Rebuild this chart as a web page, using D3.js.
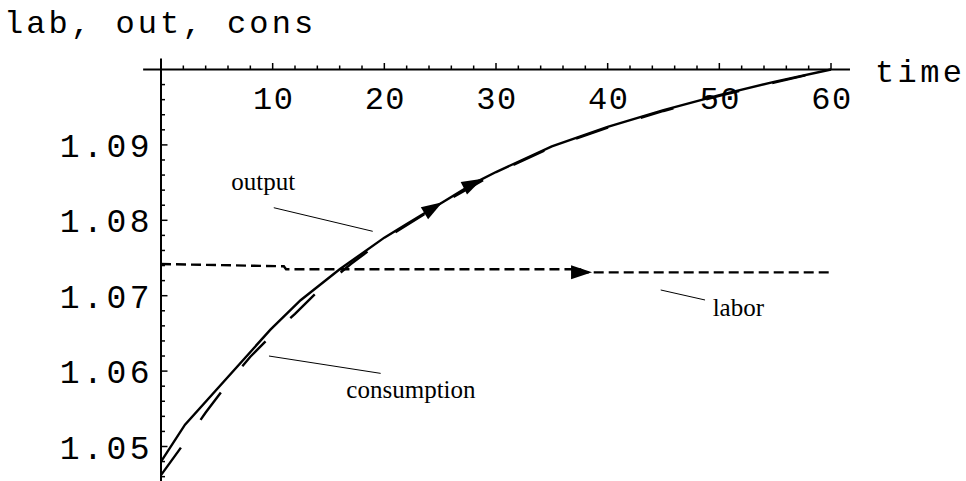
<!DOCTYPE html>
<html>
<head>
<meta charset="utf-8">
<script src="https://cdn.jsdelivr.net/npm/d3@7"></script>
<style>
  body { margin: 0; background: #fff; }
  svg { display: block; }
</style>
</head>
<body>
<svg id="chart" width="966" height="481"></svg>
<script>
// time points and series values
const outputT   = [0, 2.15, 9.8, 12.5, 16, 20, 22, 25, 28, 30, 35, 40, 45, 50, 55, 60];
const outputV   = [1.0480, 1.0529, 1.0655, 1.0694, 1.0735, 1.0777, 1.0795, 1.0822, 1.0849, 1.0864, 1.0898, 1.0924, 1.0946, 1.0966, 1.0984, 1.1000];
const consT     = [0, 2, 4, 6, 8, 10, 12, 14, 17, 20, 25, 30, 35, 40, 45, 50, 55, 60];
const consV     = [1.0462, 1.0503, 1.0545, 1.0584, 1.0619, 1.0649, 1.0676, 1.0705, 1.0742, 1.0775, 1.0821, 1.0863, 1.0897, 1.0923, 1.0945, 1.0965, 1.0983, 1.1000];
const laborT    = [0, 11, 11.2, 37.5, 38, 60.2];
const laborV    = [1.0742, 1.0739, 1.0735, 1.0735, 1.0731, 1.0731];

const xMajor = [10, 20, 30, 40, 50, 60];
const yMajor = [1.05, 1.06, 1.07, 1.08, 1.09];

// arrowheads drawn on curves: [series, t]
const arrows = [["output", 25.2], ["output", 28.8], ["labor", 38.6]];

// annotation labels: text, label anchor (t, v), pointer from/to (t, v)
const notes = [
  { text: "output",      at: [6.3, 1.0840],   from: [10.1, 1.08167], to: [18.96, 1.07854] },
  { text: "consumption", at: [16.6, 1.05643], from: [9.67, 1.0620],  to: [19.67, 1.0597] },
  { text: "labor",       at: [49.4, 1.06731], from: [44.75, 1.07076], to: [48.72, 1.06943] }
];

const svg = d3.select("#chart");
const x = d3.scaleLinear().domain([0, 60]).range([161, 831]);
const y = d3.scaleLinear().domain([1.05, 1.1]).range([446.5, 69.5]);

const mono = "'Liberation Mono', 'Courier New', monospace";
const serif = "'Liberation Serif', 'Times New Roman', serif";

const zip = (ts, vs) => ts.map((t, i) => [t, vs[i]]);
const series = {
  output: zip(outputT, outputV),
  cons: zip(consT, consV),
  labor: zip(laborT, laborV)
};

const line = d3.line().x(d => x(d[0])).y(d => y(d[1]));

// axes (Mathematica style, crossing at t=0, v=1.1)
const axisY = y(1.1);
svg.append("line")
  .attr("x1", x(-1.6)).attr("x2", x(61.7))
  .attr("y1", axisY).attr("y2", axisY)
  .attr("stroke", "#000").attr("stroke-width", 2);
svg.append("line")
  .attr("x1", x(0)).attr("x2", x(0))
  .attr("y1", axisY - 11).attr("y2", 481)
  .attr("stroke", "#000").attr("stroke-width", 2);

// x ticks
const xMinor = d3.range(2, 61, 2).filter(t => t % 10 !== 0);
svg.append("g").selectAll("line").data(xMinor).join("line")
  .attr("x1", d => x(d)).attr("x2", d => x(d))
  .attr("y1", axisY).attr("y2", axisY - 4)
  .attr("stroke", "#000").attr("stroke-width", 1.5);
svg.append("g").selectAll("line").data(xMajor).join("line")
  .attr("x1", d => x(d)).attr("x2", d => x(d))
  .attr("y1", axisY).attr("y2", axisY - 6.5)
  .attr("stroke", "#000").attr("stroke-width", 1.5);
svg.append("g").selectAll("text").data(xMajor).join("text")
  .attr("x", d => x(d) + 1)
  .attr("y", 109)
  .attr("text-anchor", "middle")
  .style("font-family", mono).style("font-size", "32px")
  .style("letter-spacing", "1.5px")
  .text(d => d);

// y ticks
const yMinor = d3.range(1.046, 1.0995, 0.002).filter(v => Math.abs(v * 100 - Math.round(v * 100)) > 1e-6);
svg.append("g").selectAll("line").data(yMinor).join("line")
  .attr("x1", x(0)).attr("x2", x(0) + 4)
  .attr("y1", d => y(d)).attr("y2", d => y(d))
  .attr("stroke", "#000").attr("stroke-width", 1.5);
svg.append("g").selectAll("line").data(yMajor).join("line")
  .attr("x1", x(0)).attr("x2", x(0) + 6.5)
  .attr("y1", d => y(d)).attr("y2", d => y(d))
  .attr("stroke", "#000").attr("stroke-width", 1.5);
svg.append("g").selectAll("text").data(yMajor).join("text")
  .attr("x", 153)
  .attr("y", d => y(d) + 12)
  .attr("text-anchor", "end")
  .style("font-family", mono).style("font-size", "33px")
  .style("letter-spacing", "3.5px")
  .text(d => d.toFixed(2));

// axis titles
svg.append("text")
  .attr("x", 4).attr("y", 33)
  .style("font-family", mono).style("font-size", "32px")
  .style("letter-spacing", "3.1px")
  .text("lab, out, cons");
svg.append("text")
  .attr("x", 875).attr("y", 82)
  .style("font-family", mono).style("font-size", "32px")
  .style("letter-spacing", "3.4px")
  .text("time");

// curves
svg.append("path").datum(series.labor)
  .attr("d", line).attr("fill", "none")
  .attr("stroke", "#000").attr("stroke-width", 2.4)
  .attr("stroke-dasharray", "10,5");
svg.append("path").datum(series.cons)
  .attr("d", line).attr("fill", "none")
  .attr("stroke", "#000").attr("stroke-width", 2.4)
  .attr("stroke-dasharray", "34,34");
svg.append("path").datum(series.output)
  .attr("d", line).attr("fill", "none")
  .attr("stroke", "#000").attr("stroke-width", 2.4);

// arrowheads placed along the curves
function pointAt(data, t) {
  const i = Math.max(1, Math.min(data.length - 1, d3.bisector(d => d[0]).left(data, t)));
  const a = data[i - 1], b = data[i];
  const k = (t - a[0]) / (b[0] - a[0]);
  const px = x(a[0] + k * (b[0] - a[0])), py = y(a[1] + k * (b[1] - a[1]));
  const ang = Math.atan2(y(b[1]) - y(a[1]), x(b[0]) - x(a[0])) * 180 / Math.PI;
  return [px, py, ang];
}
svg.append("g").selectAll("path").data(arrows).join("path")
  .attr("d", "M0,0 L-21,-7 L-21,7 Z")
  .attr("fill", "#000")
  .attr("transform", d => {
    const [px, py, ang] = pointAt(series[d[0]], d[1]);
    return `translate(${px},${py}) rotate(${ang})`;
  });

// annotations
const ng = svg.append("g");
ng.selectAll("line").data(notes).join("line")
  .attr("x1", d => x(d.from[0])).attr("y1", d => y(d.from[1]))
  .attr("x2", d => x(d.to[0])).attr("y2", d => y(d.to[1]))
  .attr("stroke", "#000").attr("stroke-width", 1);
ng.selectAll("text").data(notes).join("text")
  .attr("x", d => x(d.at[0])).attr("y", d => y(d.at[1]))
  .style("font-family", serif).style("font-size", "25px")
  .text(d => d.text);
</script>
</body>
</html>
